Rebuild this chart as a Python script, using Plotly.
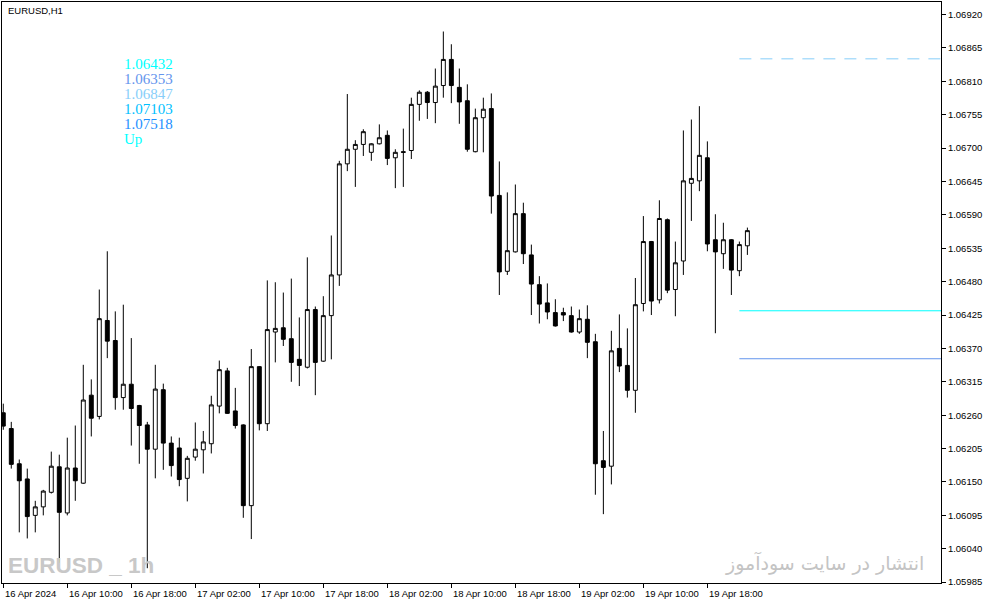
import pandas as pd
import plotly.graph_objects as go

# ---------------- data (EURUSD H1) ----------------
start_time = "2024-04-16 02:00"

opens = [1.06264, 1.06238, 1.06180, 1.06155, 1.06095, 1.06109, 1.06133, 1.06175, 1.06099, 1.06173,
         1.06148, 1.06293, 1.06258, 1.06416, 1.06383, 1.06289, 1.06311, 1.06276, 1.06244, 1.06204,
         1.06302, 1.06214, 1.06206, 1.06156, 1.06191, 1.06203, 1.06213, 1.06275, 1.06333, 1.06267,
         1.06244, 1.06111, 1.06340, 1.06246, 1.06397, 1.06404, 1.06386, 1.06352, 1.06339, 1.06434,
         1.06349, 1.06424, 1.06491, 1.06674, 1.06698, 1.06706, 1.06693, 1.06707, 1.06721, 1.06684,
         1.06694, 1.06696, 1.06772, 1.06792, 1.06775, 1.06803, 1.06846, 1.06800, 1.06778, 1.06694,
         1.06750, 1.06765, 1.06622, 1.06497, 1.06529, 1.06592, 1.06524, 1.06475, 1.06445, 1.06429,
         1.06429, 1.06424, 1.06397, 1.06418, 1.06381, 1.06185, 1.06176, 1.06370, 1.06342, 1.06301,
         1.06444, 1.06546, 1.06450, 1.06582, 1.06467, 1.06514, 1.06642, 1.06646, 1.06684, 1.06549,
         1.06526, 1.06549, 1.06498, 1.06539]
highs = [1.06279, 1.06249, 1.06187, 1.06172, 1.06119, 1.06137, 1.06200, 1.06195, 1.06223, 1.06243,
         1.06343, 1.06319, 1.06467, 1.06530, 1.06431, 1.06442, 1.06387, 1.06277, 1.06249, 1.06343,
         1.06312, 1.06225, 1.06223, 1.06193, 1.06248, 1.06234, 1.06292, 1.06350, 1.06338, 1.06305,
         1.06245, 1.06369, 1.06341, 1.06482, 1.06479, 1.06462, 1.06485, 1.06421, 1.06520, 1.06439,
         1.06456, 1.06556, 1.06679, 1.06789, 1.06713, 1.06731, 1.06708, 1.06739, 1.06729, 1.06698,
         1.06732, 1.06783, 1.06795, 1.06794, 1.06831, 1.06892, 1.06871, 1.06831, 1.06805, 1.06765,
         1.06783, 1.06790, 1.06678, 1.06627, 1.06640, 1.06610, 1.06541, 1.06489, 1.06477, 1.06451,
         1.06437, 1.06439, 1.06434, 1.06441, 1.06394, 1.06234, 1.06399, 1.06426, 1.06403, 1.06486,
         1.06588, 1.06547, 1.06614, 1.06584, 1.06546, 1.06729, 1.06747, 1.06769, 1.06711, 1.06591,
         1.06577, 1.06550, 1.06546, 1.06569]
lows = [1.06236, 1.06172, 1.06067, 1.06057, 1.06067, 1.06095, 1.06131, 1.06017, 1.06095, 1.06119,
        1.06147, 1.06225, 1.06253, 1.06354, 1.06269, 1.06269, 1.06210, 1.06180, 1.06008, 1.06156,
        1.06170, 1.06159, 1.06143, 1.06118, 1.06185, 1.06164, 1.06197, 1.06263, 1.06262, 1.06238,
        1.06091, 1.06056, 1.06235, 1.06234, 1.06347, 1.06374, 1.06315, 1.06308, 1.06337, 1.06293,
        1.06348, 1.06352, 1.06473, 1.06662, 1.06636, 1.06687, 1.06679, 1.06706, 1.06672, 1.06634,
        1.06636, 1.06682, 1.06745, 1.06748, 1.06741, 1.06783, 1.06774, 1.06740, 1.06694, 1.06693,
        1.06693, 1.06592, 1.06458, 1.06491, 1.06528, 1.06509, 1.06425, 1.06411, 1.06418, 1.06406,
        1.06415, 1.06396, 1.06394, 1.06354, 1.06129, 1.06097, 1.06146, 1.06331, 1.06289, 1.06264,
        1.06431, 1.06425, 1.06444, 1.06461, 1.06423, 1.06491, 1.06580, 1.06629, 1.06530, 1.06395,
        1.06501, 1.06458, 1.06489, 1.06524]
closes = [1.06242, 1.06179, 1.06152, 1.06093, 1.06109, 1.06135, 1.06176, 1.06100, 1.06173, 1.06152,
          1.06285, 1.06255, 1.06419, 1.06382, 1.06289, 1.06311, 1.06271, 1.06243, 1.06204, 1.06303,
          1.06214, 1.06177, 1.06154, 1.06189, 1.06204, 1.06216, 1.06277, 1.06335, 1.06263, 1.06243,
          1.06111, 1.06340, 1.06246, 1.06401, 1.06403, 1.06385, 1.06347, 1.06342, 1.06434, 1.06347,
          1.06424, 1.06491, 1.06674, 1.06698, 1.06706, 1.06727, 1.06707, 1.06717, 1.06683, 1.06693,
          1.06693, 1.06772, 1.06792, 1.06775, 1.06802, 1.06846, 1.06803, 1.06776, 1.06698, 1.06750,
          1.06764, 1.06621, 1.06496, 1.06531, 1.06592, 1.06526, 1.06476, 1.06443, 1.06430, 1.06407,
          1.06425, 1.06397, 1.06419, 1.06380, 1.06180, 1.06174, 1.06366, 1.06341, 1.06301, 1.06442,
          1.06546, 1.06448, 1.06584, 1.06466, 1.06511, 1.06646, 1.06650, 1.06688, 1.06542, 1.06529,
          1.06549, 1.06499, 1.06541, 1.06564]

# indicator levels and texts
level_values = [1.06432, 1.06353, 1.06847, 1.07103, 1.07518]
level_colors = ["#00FFFF", "#6495ED", "#87CEFA", "#00BFFF", "#1E90FF"]
signal_text = "Up"
signal_color = "#00FFFF"

# axis ticks
y_tick_start, y_tick_step, y_tick_count = 1.05985, 0.00055, 18
x_tick_labels = ["16 Apr 2024", "16 Apr 10:00", "16 Apr 18:00", "17 Apr 02:00", "17 Apr 10:00",
                 "17 Apr 18:00", "18 Apr 02:00", "18 Apr 10:00", "18 Apr 18:00", "19 Apr 02:00",
                 "19 Apr 10:00", "19 Apr 18:00"]
x_tick_every_hours = 8

title_text = "EURUSD,H1"
watermark_left = "EURUSD _ 1h"
watermark_right = "انتشار در سایت سودآموز"

# ---------------- figure ----------------
W, H = 987, 605
ML, MR, MT, MB = 2, 46, 2, 22
plot_w, plot_h = W - ML - MR, H - MT - MB
AXIS_FONT = dict(family="Liberation Sans", size=9.5, color="black")

times = pd.date_range(start_time, periods=len(opens), freq="h")
t0 = times[0]
x_range = [t0 - pd.Timedelta(hours=0.16), t0 + pd.Timedelta(hours=117.2)]
y_range = [1.059836, 1.069406]

fig = go.Figure()
fig.add_trace(go.Candlestick(
    x=times, open=opens, high=highs, low=lows, close=closes,
    increasing=dict(line=dict(color="black", width=1), fillcolor="white"),
    decreasing=dict(line=dict(color="black", width=1), fillcolor="black"),
    whiskerwidth=0, showlegend=False, hoverinfo="skip",
))

# level lines (first three levels drawn on chart)
line_styles = ["solid", "solid", "12px,9px"]
for val, col, dash in zip(level_values[:3], level_colors[:3], line_styles):
    fig.add_shape(type="line", xref="x", yref="y",
                  x0=times[92], x1=x_range[1], y0=val, y1=val,
                  line=dict(color=col, width=1, dash=dash))

annotations = []
# x-axis labels (left aligned after tick)
x_ticks = [t0 + pd.Timedelta(hours=x_tick_every_hours * k) for k in range(len(x_tick_labels))]
for t, lab in zip(x_ticks, x_tick_labels):
    annotations.append(dict(x=t, y=0, xref="x", yref="paper", text=lab, showarrow=False,
                            xanchor="left", yanchor="top", xshift=0, yshift=-3,
                            font=AXIS_FONT))

def px_x(px):
    return (px - ML) / plot_w

def px_y(py):
    return (H - MB - py) / plot_h

annotations.append(dict(x=px_x(6), y=px_y(10.5), xref="paper", yref="paper", text=title_text,
                        showarrow=False, xanchor="left", yanchor="middle", font=AXIS_FONT))

texts = [f"{v:.5f}" for v in level_values] + [signal_text]
colors = level_colors + [signal_color]
for k, (tx, col) in enumerate(zip(texts, colors)):
    annotations.append(dict(x=px_x(122), y=px_y(64 + 15 * k), xref="paper", yref="paper", text=tx,
                            showarrow=False, xanchor="left", yanchor="middle",
                            font=dict(family="Liberation Serif", size=15, color=col)))

annotations.append(dict(x=px_x(6), y=px_y(565), xref="paper", yref="paper", text=watermark_left,
                        showarrow=False, xanchor="left", yanchor="middle",
                        font=dict(family="Liberation Sans", size=22.5, color="#C8C8C8", weight="bold")))
annotations.append(dict(x=px_x(926), y=px_y(563), xref="paper", yref="paper", text=watermark_right,
                        showarrow=False, xanchor="right", yanchor="middle",
                        font=dict(family="DejaVu Sans", size=19, color="#C4C4C4")))

y_ticks = [round(y_tick_start + y_tick_step * k, 5) for k in range(y_tick_count)]

fig.update_layout(
    width=W, height=H,
    margin=dict(l=ML, r=MR, t=MT, b=MB, pad=0),
    paper_bgcolor="white", plot_bgcolor="white",
    annotations=annotations,
    xaxis=dict(type="date", range=x_range, rangeslider=dict(visible=False),
               showgrid=False, zeroline=False, showline=True, mirror=True,
               linecolor="black", linewidth=1, ticks="outside", ticklen=4,
               tickcolor="black", tickvals=x_ticks, showticklabels=False),
    yaxis=dict(side="right", range=y_range, showgrid=False, zeroline=False,
               showline=True, mirror=True, linecolor="black", linewidth=1,
               ticks="outside", ticklen=4, tickcolor="black",
               tickvals=y_ticks, ticktext=[f"{v:.5f}" for v in y_ticks],
               tickfont=AXIS_FONT),
    hovermode=False,
)

fig.write_html("out.html", config={"displayModeBar": False},
               post_script="document.body.style.margin='0';document.body.style.padding='0';")
